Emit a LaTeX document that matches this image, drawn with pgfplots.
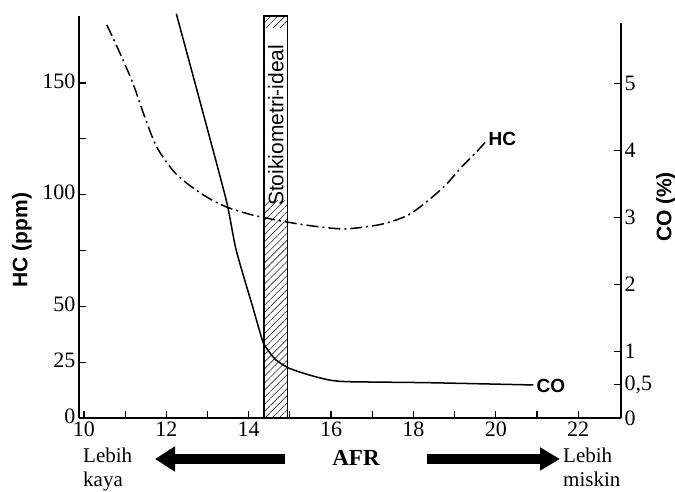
\documentclass[border=0pt]{standalone}
\usepackage{fontspec}
\setmainfont{Liberation Serif}
\newfontfamily\arial{Liberation Sans}
\usepackage{pgfplots}
\pgfplotsset{compat=1.18}
\usetikzlibrary{arrows.meta,patterns.meta}

\begin{document}
\begin{tikzpicture}
\useasboundingbox (-79pt,-74pt) rectangle (596pt,418pt);

% HC axis (left)
\begin{axis}[
	at={(0pt,0pt)}, anchor=south west,
	scale only axis, width=542pt, height=402pt,
	xmin=9.88, xmax=23.04, ymin=0, ymax=180,
	axis x line=bottom, axis y line=left,
	axis line style={-, line width=1.6pt},
	xtick={10,12,14,16,18,20,22}, xticklabels={10,12,14,16,18,20,22},
	minor xtick={11,13,15,17,19,21},
	ytick={0,25,50,75,100,125,150}, yticklabels={0,25,50,,100,,150},
	tick align=inside,
	major tick length=7pt, minor tick length=7pt,
	tick style={line width=1.2pt, black},
	tick label style={font=\fontsize{22}{24}\selectfont},
	yticklabel style={yshift=2pt},
	clip=false]

	% stoikiometri band
	\addplot[draw=none, pattern={Lines[angle=45,distance=5pt,line width=0.6pt]}, pattern color=black!85]
		coordinates {(14.37,0) (14.95,0) (14.95,180) (14.37,180)} -- cycle;
	\addplot[draw=none, fill=white]
		coordinates {(14.37,97.6) (14.95,97.6) (14.95,174.6) (14.37,174.6)} -- cycle;
	\addplot[draw=black, line width=1.3pt]
		coordinates {(14.37,0) (14.95,0) (14.95,180) (14.37,180)} -- cycle;
	\node[rotate=90, font=\arial\fontsize{21}{22}\selectfont] at (axis cs:14.66,131) {Stoikiometri-ideal};

	% HC
	\addplot[black, line width=1.5pt, smooth, tension=0.5, dash pattern=on 12pt off 4pt on 2pt off 4pt] coordinates {
		(10.556,176.0) (10.871,163.5) (11.186,150.0) (11.476,134.8) (11.766,121.4)
		(12.153,111.0) (12.492,105.2) (12.976,99.0) (13.460,94.5) (14.089,90.9)
		(14.912,87.8) (15.710,85.6) (16.363,84.7) (17.162,86.5) (17.646,89.1)
		(17.960,91.8) (18.372,97.6) (18.783,104.3) (19.170,112.4) (19.509,118.7)
		(19.751,123.6)};
	\node[anchor=west, inner sep=3pt, yshift=3pt, font=\arial\bfseries\fontsize{19}{20}\selectfont] at (axis cs:19.751,123.6) {HC};
\end{axis}

% CO axis (right)
\begin{axis}[
	at={(0pt,0pt)}, anchor=south west,
	scale only axis, width=542pt, height=395pt,
	xmin=9.88, xmax=23.04, ymin=0, ymax=5.91,
	axis x line=none, axis y line=right,
	axis line style={-, line width=1.6pt},
	ytick={0,0.5,1,2,3,4,5}, yticklabels={0,{0,5},1,2,3,4,5},
	tick align=inside,
	major tick length=7pt,
	tick style={line width=1.2pt, black},
	tick label style={font=\fontsize{22}{24}\selectfont},
	clip=false]

	% CO
	\addplot[black, line width=1.5pt, smooth, tension=0.4] coordinates {
		(12.243,6.048) (12.807,4.760) (13.453,3.263) (13.695,2.515) (14.096,1.666)
		(14.258,1.317) (14.355,1.123) (14.50,0.988) (14.662,0.868) (14.985,0.744)
		(15.468,0.644) (15.952,0.569) (16.436,0.543) (18.372,0.528) (20.912,0.494)};
	\node[anchor=west, inner sep=3pt, yshift=-1pt, font=\arial\bfseries\fontsize{19}{20}\selectfont] at (axis cs:20.912,0.494) {CO};
\end{axis}

% axis titles
\node[rotate=90, font=\arial\bfseries\fontsize{21}{22}\selectfont] at (-57pt,178pt) {HC (ppm)};
\node[rotate=90, font=\arial\bfseries\fontsize{21}{22}\selectfont] at (587pt,211pt) {CO (\%)};

% AFR direction
\node[anchor=base, inner sep=0pt, font=\bfseries\fontsize{23}{24}\selectfont] at (277pt,-48pt) {AFR};
\node[anchor=base west, inner sep=0pt, font=\fontsize{21}{22}\selectfont] at (4pt,-45pt) {Lebih};
\node[anchor=base west, inner sep=0pt, font=\fontsize{21}{22}\selectfont] at (4pt,-69pt) {kaya};
\node[anchor=base west, inner sep=0pt, font=\fontsize{21}{22}\selectfont] at (484pt,-45pt) {Lebih};
\node[anchor=base west, inner sep=0pt, font=\fontsize{21}{22}\selectfont] at (484pt,-69pt) {miskin};
\draw[line width=10pt, -{Triangle[length=20pt,width=24pt]}] (206pt,-41pt) -- (76pt,-41pt);
\draw[line width=10pt, -{Triangle[length=20pt,width=22pt]}] (348pt,-41pt) -- (481pt,-41pt);
\end{tikzpicture}
\end{document}
